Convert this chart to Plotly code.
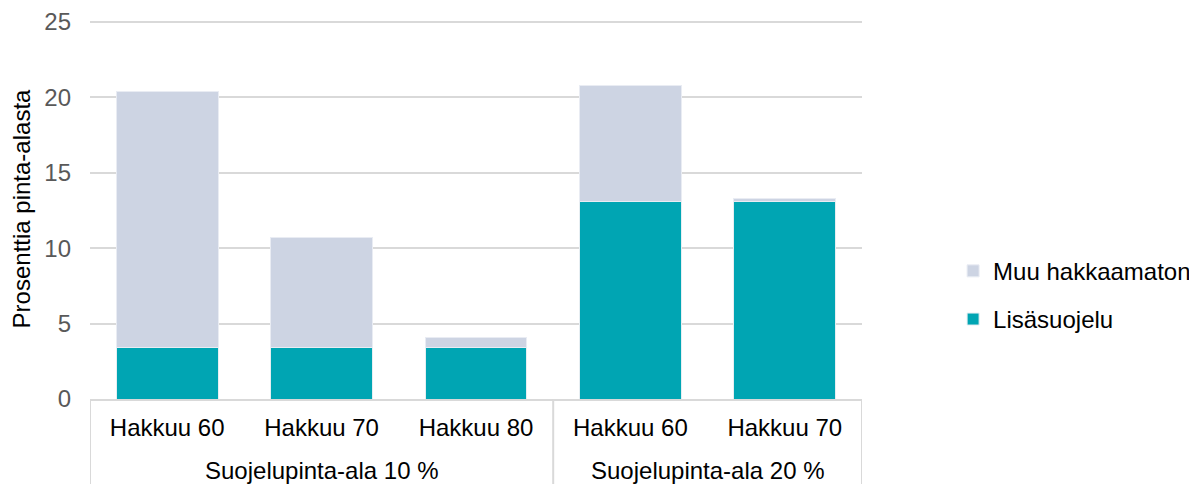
import plotly.graph_objects as go

# categories
groups = ["Suojelupinta-ala 10 %"] * 3 + ["Suojelupinta-ala 20 %"] * 2
subcats = ["Hakkuu 60", "Hakkuu 70", "Hakkuu 80", "Hakkuu 60", "Hakkuu 70"]
ytick_vals = [0, 5, 10, 15, 20, 25]

# series values (% of area)
lisasuojelu = [3.4, 3.4, 3.4, 13.1, 13.1]
muu_hakkaamaton = [17.0, 7.3, 0.7, 7.7, 0.2]

GRID = "#d9d9d9"


def main():
    xpos = list(range(len(subcats)))

    fig = go.Figure()
    fig.add_trace(go.Bar(
        x=xpos, y=lisasuojelu, name="Lisäsuojelu", legendgroup="a", legendrank=2,
        marker=dict(color="#00a5b3", line=dict(color="#e6eef2", width=1)),
    ))
    fig.add_trace(go.Bar(
        x=xpos, y=muu_hakkaamaton, name="Muu hakkaamaton", legendgroup="b", legendrank=1,
        marker=dict(color="#cdd4e3", line=dict(color="#e9ecf3", width=1)),
    ))

    # group labels + dividers under the category axis
    bounds = [-0.5]
    for i in range(1, len(groups)):
        if groups[i] != groups[i - 1]:
            bounds.append(i - 0.5)
    bounds.append(len(groups) - 0.5)
    for b in bounds:
        fig.add_shape(type="line", xref="x", yref="paper", x0=b, x1=b,
                      y0=0, y1=-0.23, line=dict(color=GRID, width=2))
    names = []
    for g in groups:
        if g not in names:
            names.append(g)
    for g in names:
        idx = [i for i, v in enumerate(groups) if v == g]
        fig.add_annotation(x=sum(idx) / len(idx), xref="x", y=-0.187, yref="paper",
                           yanchor="middle", text=g, showarrow=False,
                           font=dict(size=24, color="#000000"))

    fig.update_layout(
        barmode="stack",
        bargap=0.34,
        width=1197, height=484,
        # page has an 8px body margin, so the plot box is shifted back by 8px
        margin=dict(l=82, r=343, t=11, b=93, autoexpand=False),
        plot_bgcolor="white", paper_bgcolor="white",
        font=dict(family="Liberation Sans, Arial", size=24, color="#000000"),
        legend=dict(x=1.118, y=0.273, yanchor="middle", xanchor="left",
                    traceorder="grouped", tracegroupgap=14,
                    font=dict(size=24, color="#000000")),
        showlegend=True,
    )
    fig.update_yaxes(
        range=[0, 25.2], tickvals=ytick_vals,
        showgrid=True, gridcolor=GRID, gridwidth=1.5,
        zeroline=False, tickfont=dict(color="#595959", size=24),
        ticks="", ticklabelstandoff=18, automargin=False,
        title=dict(text="Prosenttia pinta-alasta", font=dict(size=24, color="#000000"),
                   standoff=10),
    )
    fig.update_xaxes(
        range=[-0.5, len(subcats) - 0.5],
        tickvals=xpos, ticktext=subcats,
        showline=True, linecolor=GRID, linewidth=2, showgrid=False,
        ticks="", ticklabelstandoff=6,
        tickfont=dict(size=24, color="#000000"), automargin=False,
    )

    fig.write_html("out.html")


if __name__ == "__main__":
    main()
